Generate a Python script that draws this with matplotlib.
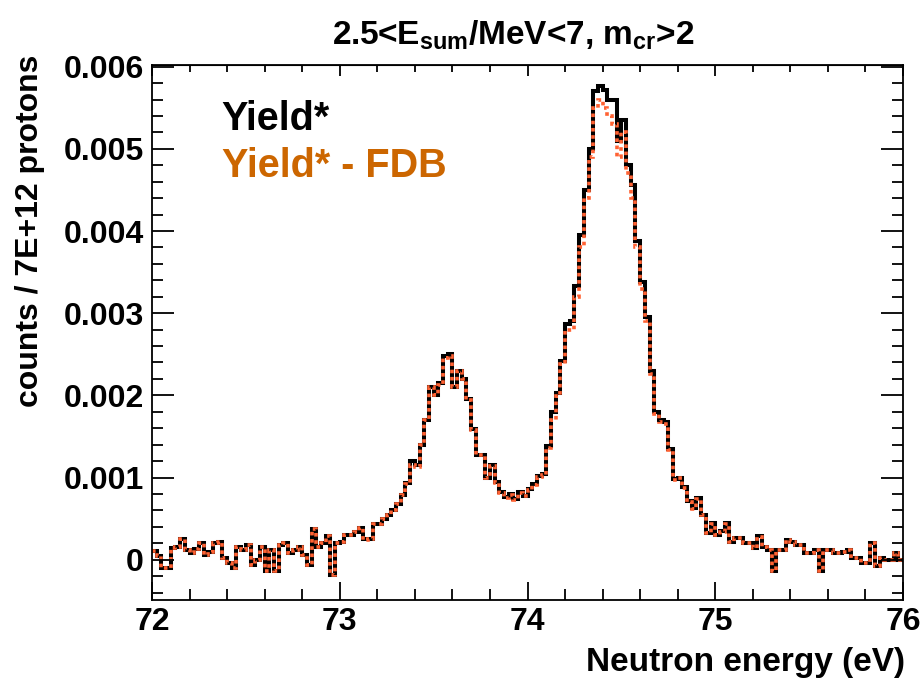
import numpy as np
import matplotlib
matplotlib.use("Agg")
import matplotlib.pyplot as plt
from matplotlib.ticker import MultipleLocator, FuncFormatter

plt.rcParams['font.family'] = ['Liberation Sans', 'DejaVu Sans']
plt.rcParams['font.weight'] = 'bold'
plt.rcParams['mathtext.fontset'] = 'custom'
plt.rcParams['mathtext.bf'] = 'Liberation Sans:bold'
plt.rcParams['mathtext.rm'] = 'Liberation Sans:bold'
plt.rcParams['mathtext.it'] = 'Liberation Sans:bold'
plt.rcParams['mathtext.default'] = 'bf'

# ---- data ----
e_min = 72.0
e_max = 76.0
n_bins = 160

yield_star = [
    0.00011, 0.00004, -0.0001, -0.0001, 0.00014, 0.00016, 0.00025, 0.00012, 0.00008, 0.00013,
    0.0002, 0.00006, 0.0001, 0.0002, 0.00022, 0.00002, -0.00004, -0.0001, 0.00016, 0.00012,
    0.00018, -0.00006, 0.0, 0.00016, -0.00014, 0.00012, -0.00014, 0.00018, 0.0002, 0.00008,
    0.00012, 0.00016, 0.00006, -0.00006, 0.00037, 0.00016, 0.0002, 0.00029, -0.00018, 0.0002,
    0.00022, 0.0003, 0.0003, 0.00034, 0.00039, 0.00025, 0.00025, 0.00043, 0.00043, 0.00049,
    0.00055, 0.0006, 0.00068, 0.00079, 0.00093, 0.0012, 0.00115, 0.0014, 0.0017, 0.0021,
    0.0020, 0.00215, 0.00248, 0.0025, 0.0021, 0.0023, 0.0022, 0.00195, 0.00159, 0.00128,
    0.00128, 0.0010, 0.00115, 0.00094, 0.00082, 0.00076, 0.0008, 0.00074, 0.00082, 0.00078,
    0.00086, 0.00092, 0.00102, 0.00104, 0.00138, 0.0018, 0.00203, 0.00242, 0.00287, 0.0029,
    0.00333, 0.00395, 0.0045, 0.0050, 0.0057, 0.00577, 0.00572, 0.0056, 0.0056, 0.0051,
    0.00535, 0.0048, 0.00456, 0.00388, 0.00338, 0.00295, 0.0023, 0.0018, 0.0017, 0.00167,
    0.00135, 0.00098, 0.0010, 0.00088, 0.00071, 0.00063, 0.00075, 0.00055, 0.00033, 0.00045,
    0.0003, 0.00035, 0.00045, 0.00022, 0.00027, 0.00027, 0.0002, 0.0002, 0.00014, 0.00029,
    0.00016, 0.00012, -0.00014, 0.00012, 0.00012, 0.00024, 0.00022, 0.00018, 0.00018, 0.00008,
    0.00008, 0.00012, -0.00014, 0.00012, 0.00012, 0.00008, 0.00008, 0.0001, 0.00012, 0.00002,
    0.00002, -0.00004, -0.00004, 0.0002, -0.00008, 0.00002, 0.0, 0.0, 0.00008, 0.0,
]

yield_minus_fdb = [
    0.00011, 0.00004, -0.0001, -0.0001, 0.00014, 0.00016, 0.00025, 0.00012, 0.00008, 0.00013,
    0.0002, 0.00006, 0.0001, 0.0002, 0.00022, 0.00002, -0.00004, -0.0001, 0.00016, 0.00012,
    0.00018, -0.00006, 0.0, 0.00016, -0.00014, 0.00012, -0.00014, 0.00018, 0.0002, 0.00008,
    0.00012, 0.00016, 0.00006, -0.00006, 0.00037, 0.00016, 0.0002, 0.00029, -0.00018, 0.0002,
    0.00022, 0.0003, 0.0003, 0.00034, 0.00039, 0.00024, 0.00025, 0.00043, 0.00043, 0.00049,
    0.00055, 0.0006, 0.00068, 0.00079, 0.00092, 0.00115, 0.00113, 0.0014, 0.0017, 0.0021,
    0.0020, 0.00213, 0.00246, 0.00248, 0.0021, 0.0023, 0.0022, 0.00194, 0.00158, 0.00127,
    0.00127, 0.00099, 0.00114, 0.00093, 0.00081, 0.00075, 0.00079, 0.00073, 0.00081, 0.00077,
    0.00085, 0.00091, 0.00101, 0.00103, 0.00136, 0.0017, 0.00199, 0.00238, 0.0028, 0.0028,
    0.0032, 0.0038, 0.0044, 0.0049, 0.0055, 0.0056, 0.0055, 0.0054, 0.0053, 0.0049,
    0.0052, 0.0047, 0.0044, 0.0038, 0.0033, 0.0029, 0.00226, 0.00177, 0.00167, 0.00165,
    0.00133, 0.00097, 0.00099, 0.00087, 0.0007, 0.00062, 0.00074, 0.00054, 0.00032, 0.00044,
    0.0003, 0.00034, 0.00044, 0.00022, 0.00026, 0.00026, 0.0002, 0.0002, 0.00014, 0.00028,
    0.00016, 0.00012, -0.00014, 0.00012, 0.00012, 0.00024, 0.00022, 0.00018, 0.00018, 0.00008,
    0.00008, 0.00012, -0.00014, 0.00012, 0.00012, 0.00008, 0.00008, 0.0001, 0.00012, 0.00002,
    0.00002, -0.00004, -0.00004, 0.0002, -0.00008, 0.00002, 0.0, 0.0, 0.00008, 0.0,
]

x_ticks = [72, 73, 74, 75, 76]
y_ticks = [0, 0.001, 0.002, 0.003, 0.004, 0.005, 0.006]

title_text = r"2.5<E$_{sum}$/MeV<7, m$_{cr}$>2"
xlabel_text = "Neutron energy (eV)"
ylabel_text = "counts / 7E+12 protons"
legend_labels = ["Yield*", "Yield* - FDB"]

# ---- plot ----
edges = np.linspace(e_min, e_max, n_bins + 1)

fig = plt.figure(figsize=(9.23, 6.88), dpi=100)
ax = fig.add_axes([152/923, 88/688, (903-152)/923, (600-65)/688])

ax.stairs(yield_star, edges, baseline=None, color='black', linewidth=2.9)
ax.stairs(yield_minus_fdb, edges, baseline=None, color='#ff6233', linewidth=2.6,
          linestyle=(0, (1.0, 1.0)))

ax.set_xlim(e_min, e_max)
ax.set_ylim(-0.00049, 0.00602)

ax.set_xticks(x_ticks)
ax.set_yticks(y_ticks)
ax.xaxis.set_minor_locator(MultipleLocator(0.2))
ax.yaxis.set_minor_locator(MultipleLocator(0.0002))
ax.yaxis.set_major_formatter(FuncFormatter(lambda v, p: "0" if abs(v) < 1e-12 else f"{v:.3f}"))

ax.tick_params(axis='both', which='both', direction='in', width=1.3, labelsize=23)
ax.tick_params(axis='x', which='major', length=13, pad=5, top=False)
ax.tick_params(axis='x', which='minor', length=8, top=False)
ax.tick_params(axis='y', which='major', length=16, pad=6, right=True)
ax.tick_params(axis='y', which='minor', length=8, right=True)
for lab in ax.get_xticklabels() + ax.get_yticklabels():
    lab.set_fontweight('bold')

secx = ax.secondary_xaxis('top')
secx.set_xticks(x_ticks)
secx.xaxis.set_minor_locator(MultipleLocator(0.2))
secx.tick_params(axis='x', which='major', direction='in', length=8, width=1.3, labeltop=False)
secx.tick_params(axis='x', which='minor', direction='in', length=5, width=1.3)
secx.set_xticklabels([])

for sp in ax.spines.values():
    sp.set_linewidth(1.3)

ax.text(0.093, 0.90, legend_labels[0], transform=ax.transAxes, fontsize=28.5,
        fontweight='bold', color='black', ha='left', va='center')
ax.text(0.093, 0.812, legend_labels[1], transform=ax.transAxes, fontsize=28.5,
        fontweight='bold', color='#cc6600', ha='left', va='center')

fig.text(513/923, 1 - 35/688, title_text, fontsize=24, fontweight='bold',
         ha='center', va='center')
fig.text(905/923, 1 - 662/688, xlabel_text, fontsize=24, fontweight='bold',
         ha='right', va='center')
fig.text(30/923, 1 - 55/688, ylabel_text, fontsize=23, fontweight='bold',
         ha='center', va='top', rotation=90)

fig.savefig("out.png", dpi=100)
